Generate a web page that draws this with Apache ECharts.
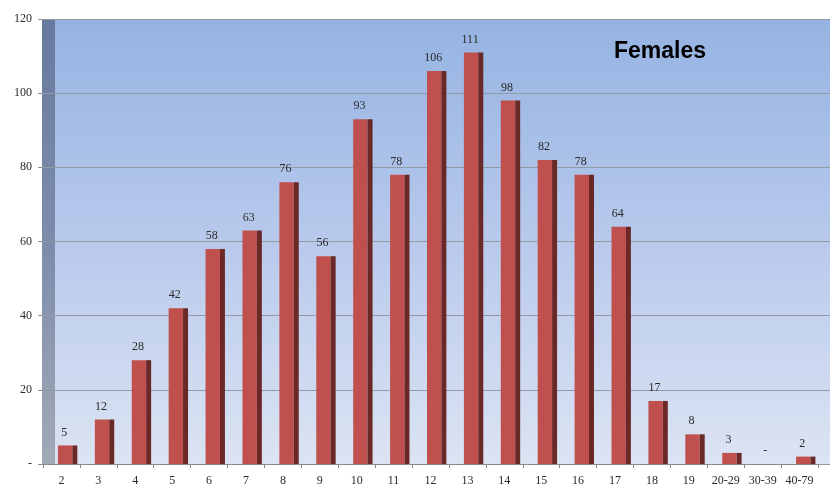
<!DOCTYPE html>
<html>
<head>
<meta charset="utf-8">
<script src="https://cdn.jsdelivr.net/npm/echarts@6/dist/echarts.min.js"></script>
<style>html,body{margin:0;padding:0;background:#fff;}#c{width:833px;height:491px;}</style>
</head>
<body>
<div id="c"></div>
<script>
var categories = ['2','3','4','5','6','7','8','9','10','11','12','13','14','15','16','17','18','19','20-29','30-39','40-79'];
var values = [5,12,28,42,58,63,76,56,93,78,106,111,98,82,78,64,17,8,3,0,2];
var yTicks = [0,20,40,60,80,100,120];
var title = 'Females';

var chart = echarts.init(document.getElementById('c'));
var serif = '"Liberation Serif","DejaVu Serif",serif';

function renderBar(params, api) {
  var i = api.value(0), v = api.value(1);
  var top = api.coord([i, v]);
  var base = api.coord([i, 0]);
  var bw = api.size([1, 0])[0];
  var x0 = top[0] - bw * 0.095;
  var fw = bw * 0.39;
  var sw = bw * 0.135;
  var h = base[1] - top[1];
  var children = [];
  if (h > 0) {
    children.push({type:'rect', shape:{x:x0, y:top[1], width:fw, height:h}, style:{fill:'#c0504d'}});
    children.push({type:'rect', shape:{x:x0+fw, y:top[1], width:sw, height:h}, style:{fill:'#6a2826'}});
  }
  children.push({type:'text', style:{text: v === 0 ? '-' : String(v), x: x0 + fw/2 - 1, y: top[1] - 7,
    textAlign:'center', textVerticalAlign:'bottom', font:'12px ' + serif, fill:'#2a2a2a'}});
  return {type:'group', children: children};
}

chart.setOption({
  animation: false,
  graphic: [
    {type:'rect', z:-10, shape:{x:55, y:19, width:775, height:445},
      style:{fill:{type:'linear', x:0, y:0, x2:0, y2:1, colorStops:[{offset:0,color:'#95b3e2'},{offset:0.5,color:'#b8c9ec'},{offset:1,color:'#dce4f3'}]}}},
    {type:'rect', z:-10, shape:{x:42, y:19, width:13, height:445},
      style:{fill:{type:'linear', x:0, y:0, x2:0, y2:1, colorStops:[{offset:0,color:'#677a9e'},{offset:0.5,color:'#7d8cab'},{offset:1,color:'#a2a9b6'}]}}},
    {type:'text', left:614, top:40, style:{text:title, font:'bold 23px "Liberation Sans",Arial,sans-serif', fill:'#000'}}
  ],
  grid: [
    {left:42, right:3, top:19, bottom:27},
    {left:43, right:15, top:19, bottom:27}
  ],
  xAxis: [
    {gridIndex:0, type:'value', show:false, min:0, max:1},
    {gridIndex:1, type:'category', data:categories,
      axisLine:{show:true, lineStyle:{color:'#8a8a8a', width:1}},
      axisTick:{show:true, length:4, lineStyle:{color:'#8a8a8a'}},
      axisLabel:{color:'#2a2a2a', fontFamily:serif, fontSize:12, margin:11}}
  ],
  yAxis: [
    {gridIndex:0, type:'value', min:0, max:120, interval:20,
      axisLine:{show:false},
      axisTick:{show:true, length:4, lineStyle:{color:'#8a8a8a'}},
      axisLabel:{color:'#2a2a2a', fontFamily:serif, fontSize:12, margin:10,
        formatter:function(v){ return v === 0 ? '-' : String(v); }},
      splitLine:{show:true, lineStyle:{color:'#939aa6', width:1}}},
    {gridIndex:1, type:'value', min:0, max:120, interval:20, show:false, splitLine:{show:false}}
  ],
  series: [
    {type:'custom', xAxisIndex:1, yAxisIndex:1, renderItem:renderBar,
      data: values.map(function(v, i){ return [i, v]; }), clip:false}
  ]
});
</script>
</body>
</html>
